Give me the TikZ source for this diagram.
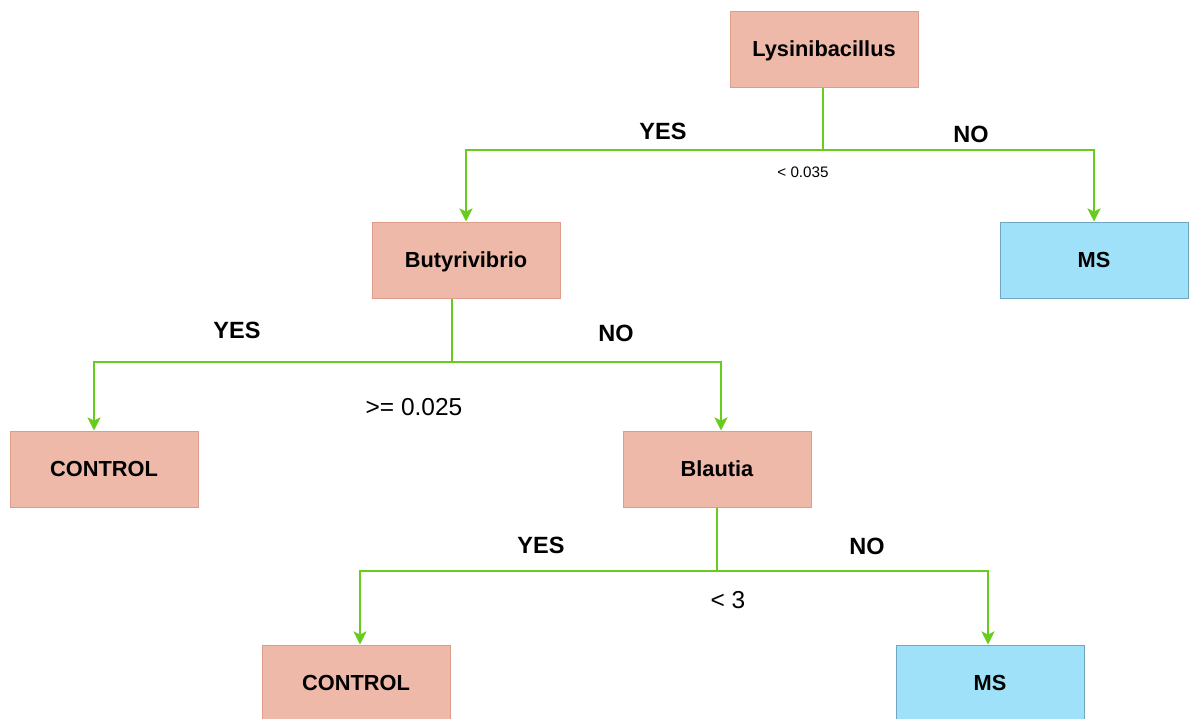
\documentclass[tikz,border=0pt]{standalone}
\usepackage{fontspec}
\setmainfont{Liberation Sans}
\usetikzlibrary{arrows.meta}
\definecolor{pinkfill}{HTML}{EEB9A9}
\definecolor{pinkline}{HTML}{DE9C8A}
\definecolor{bluefill}{HTML}{9EE1F8}
\definecolor{blueline}{HTML}{6FA6C2}
\definecolor{branch}{HTML}{68CC1E}
\begin{document}
\begin{tikzpicture}[x=1pt,y=-1pt,
  box/.style={draw, line width=1pt, minimum width=188pt, minimum height=76pt,
    inner sep=0pt, text depth=0pt, font=\fontsize{21.8}{26}\selectfont\bfseries},
  genus/.style={box, fill=pinkfill, draw=pinkline},
  ctrl/.style={box, fill=pinkfill, draw=pinkline},
  msbox/.style={box, fill=bluefill, draw=blueline},
  stem/.style={draw=branch, line width=2.6pt},
  arr/.style={stem, -{Stealth[length=13pt,width=13pt,inset=3pt]}},
  answer/.style={font=\fontsize{23.5}{28}\selectfont\bfseries},
  cut/.style={font=\fontsize{24.5}{29}\selectfont},
  smallcut/.style={font=\fontsize{15.2}{18}\selectfont}]
\useasboundingbox (0,0) rectangle (1198,718);
\clip (0,0) rectangle (1198,718);

% decision nodes
\node[genus] (lys) at (824,49) {Lysinibacillus};
\node[genus] (but) at (466,260) {Butyrivibrio};
\node[msbox] (ms1) at (1094,260) {MS};
\node[ctrl]  (c1)  at (104,469) {CONTROL};
\node[genus] (bla) at (717,469) {Blautia};
\node[ctrl]  (c2)  at (356,683) {CONTROL};
\node[msbox] (ms2) at (990,683) {MS};

% branch junctions
\coordinate (j1) at (823,150);
\coordinate (j2) at (452,362);
\coordinate (j3) at (717,571);

% first split
\draw[stem] (j1 |- lys.south) -- (j1);
\draw[arr] (j1) -| (but.north);
\draw[arr] (j1) -| (ms1.north);

% second split
\draw[stem] (j2 |- but.south) -- (j2);
\draw[arr] (j2) -| ([xshift=-10pt]c1.north);
\draw[arr] (j2) -| ([xshift=4pt]bla.north);

% third split
\draw[stem] (j3 |- bla.south) -- (j3);
\draw[arr] (j3) -| ([xshift=4pt]c2.north);
\draw[arr] (j3) -| ([xshift=-2pt]ms2.north);

% labels
\node[answer] (y1) at (663,131) {YES};
\node[answer] (n1) at (971,134) {NO};
\node[smallcut] (t1) at (803,172) {< 0.035};
\node[answer] (y2) at (237,330) {YES};
\node[answer] (n2) at (616,333) {NO};
\node[cut] (t2) at (414,407) {>= 0.025};
\node[answer] (y3) at (541,545) {YES};
\node[answer] (n3) at (867,546) {NO};
\node[cut] (t3) at (728,600) {< 3};
\end{tikzpicture}
\end{document}
